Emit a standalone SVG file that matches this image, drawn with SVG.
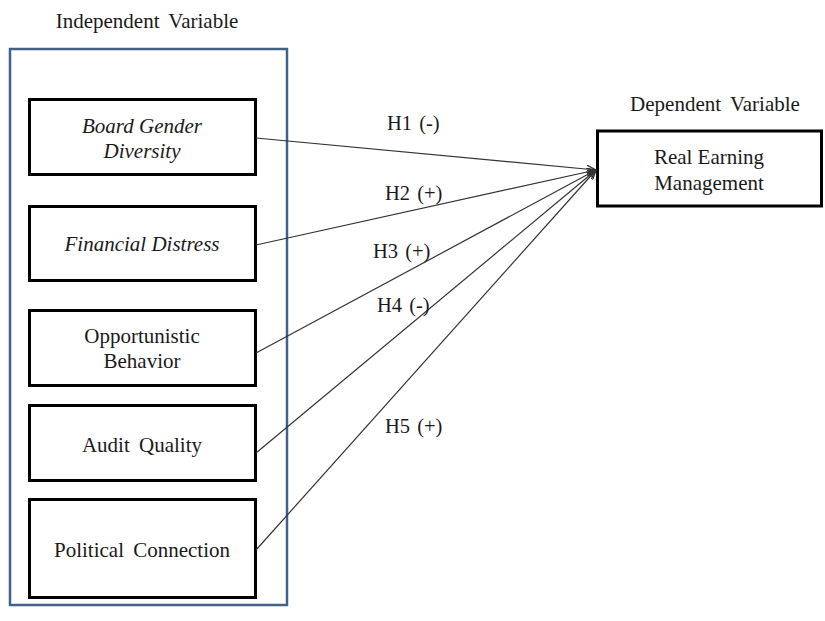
<svg xmlns="http://www.w3.org/2000/svg" width="825" height="621" viewBox="0 0 825 621">
<style>
.t{font-family:"Liberation Serif","Times New Roman",serif;font-size:21px;fill:#1a1a1a;text-anchor:middle}
.w{word-spacing:4px}
.i{font-style:italic}
.box{fill:#fff;stroke:#000;stroke-width:3}
.lbl{font-family:"Liberation Serif","Times New Roman",serif;font-size:20.5px;fill:#1a1a1a;word-spacing:2px}
.c{stroke:#333;stroke-width:1.2;fill:none;marker-end:url(#ah)}
</style>
<defs>
<marker id="ah" viewBox="0 0 10 8" refX="9.5" refY="4" markerWidth="10" markerHeight="8" markerUnits="userSpaceOnUse" orient="auto">
<path d="M0,0 L9.5,4 L0,8" fill="none" stroke="#333" stroke-width="1.3"/>
</marker>
</defs>
<rect width="825" height="621" fill="#fff"/>
<g id="group-independent">
<text class="t w" x="147" y="28">Independent Variable</text>
<rect x="10" y="49" width="277" height="556" fill="none" stroke="#41618d" stroke-width="2.5"/>
</g>
<g id="node-board">
<rect class="box" x="29.5" y="99.5" width="226" height="75"/>
<text class="t i" x="142" y="133">Board Gender</text>
<text class="t i" x="142" y="158">Diversity</text>
</g>
<g id="node-financial">
<rect class="box" x="29.5" y="206.5" width="226" height="74"/>
<text class="t i" x="142" y="251">Financial Distress</text>
</g>
<g id="node-opportunistic">
<rect class="box" x="29.5" y="310.5" width="226" height="75"/>
<text class="t" x="142" y="343">Opportunistic</text>
<text class="t" x="142" y="368">Behavior</text>
</g>
<g id="node-audit">
<rect class="box" x="29.5" y="405.5" width="226" height="75"/>
<text class="t w" x="142" y="452">Audit Quality</text>
</g>
<g id="node-political">
<rect class="box" x="29.5" y="499.5" width="226" height="98"/>
<text class="t w" x="142" y="557">Political Connection</text>
</g>
<g id="node-real">
<text class="t w" x="715" y="111">Dependent Variable</text>
<rect class="box" x="597.5" y="131" width="224" height="75"/>
<text class="t" x="709" y="164">Real Earning</text>
<text class="t" x="709" y="190">Management</text>
</g>
<g id="connectors">
<line class="c" x1="256" y1="138" x2="596" y2="170"/>
<line class="c" x1="256" y1="245" x2="596" y2="170"/>
<line class="c" x1="256" y1="353" x2="596" y2="170"/>
<line class="c" x1="256" y1="453" x2="596" y2="170"/>
<line class="c" x1="256" y1="550" x2="596" y2="170"/>
<text class="lbl" x="387" y="130">H1 (-)</text>
<text class="lbl" x="385" y="200">H2 (+)</text>
<text class="lbl" x="373" y="258">H3 (+)</text>
<text class="lbl" x="377" y="312">H4 (-)</text>
<text class="lbl" x="385" y="433">H5 (+)</text>
</g>
</svg>
